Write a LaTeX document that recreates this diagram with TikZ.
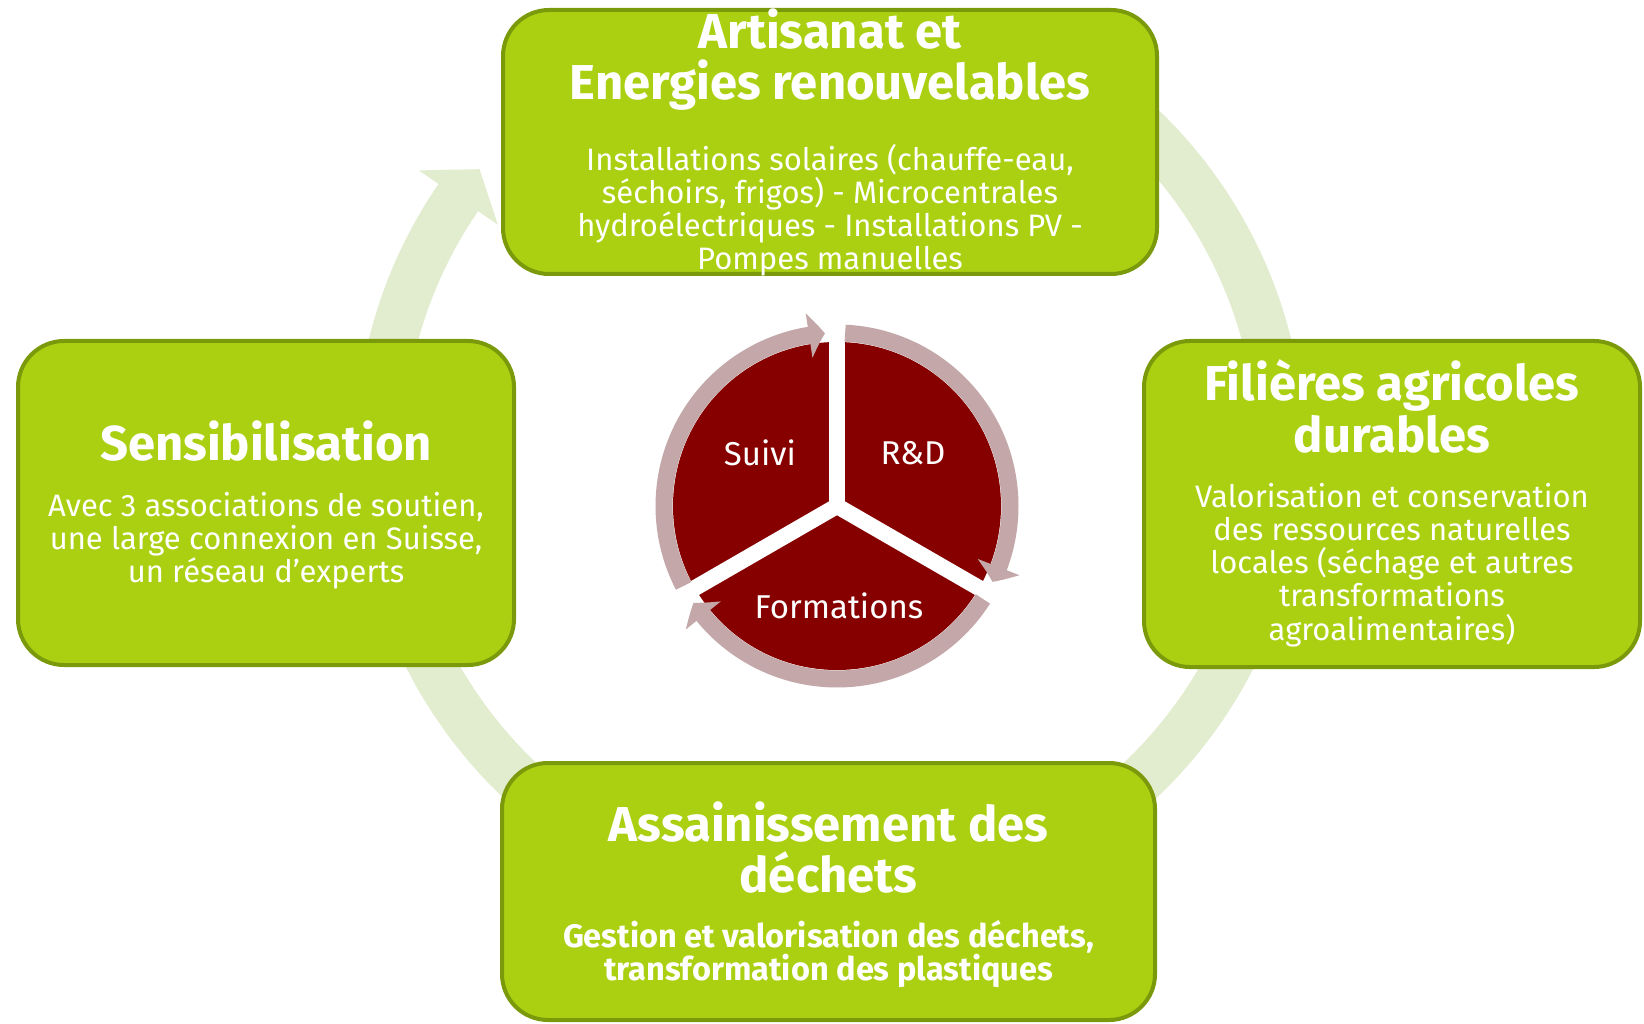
\documentclass[tikz,border=0pt]{standalone}
\usepackage{fontspec}
\setmainfont{Fira Sans}
\usetikzlibrary{arrows.meta,bending,calc}

\definecolor{boxfill}{HTML}{AAD011}
\definecolor{boxline}{HTML}{7A9A0C}
\definecolor{bandgreen}{HTML}{E2EDCF}
\definecolor{piered}{HTML}{870000}
\definecolor{ringmauve}{HTML}{C3A7A9}

\newcommand\lineup[1]{\rule{0pt}{#1}}

\begin{document}
\begin{tikzpicture}[x=1pt,y=-1pt,
  greenbox/.style={draw=boxline, line width=4pt, fill=boxfill, rounded corners=46pt, inner sep=0pt},
  band/.style={draw=bandgreen, line width=48pt},
  bighead/.style={fill=bandgreen, draw=none},
  bigtitle/.style={text=white, anchor=north, inner sep=0pt, align=center, font=\bfseries\fontsize{49}{51}\selectfont},
  sidetitle/.style={text=white, anchor=north, inner sep=0pt, align=center, font=\bfseries\fontsize{49}{52}\selectfont},
  bodytext/.style={text=white, anchor=north, inner sep=0pt, align=center, font=\fontsize{31}{33.2}\selectfont},
  ringarrow/.style={draw=ringmauve, line width=17pt, -{Triangle[width=44pt,length=16pt,bend]}},
  separator/.style={draw=white, line width=16pt},
  pielabel/.style={text=white, inner sep=0pt, font=\fontsize{33}{38}\selectfont}
]
\useasboundingbox (0,0) rectangle (1644,1024);
\fill[white] (0,0) rectangle (1644,1024);

% big cycle band
\coordinate (bc) at (830,453);
\draw[band] (bc) ++(55:451pt) arc[start angle=55, end angle=5, radius=451pt];
\draw[band] (bc) ++(-20:451pt) arc[start angle=-20, end angle=-62, radius=451pt];
\draw[band] (bc) ++(-118:451pt) arc[start angle=-118, end angle=-160, radius=451pt];
\draw[band] (bc) ++(175:451pt) arc[start angle=175, end angle=145.3, radius=451pt];
\coordinate (hb1) at ($(bc)+(145.5:499pt)$);
\coordinate (htip) at ($(bc)+(141:451pt)$);
\coordinate (hb2) at ($(bc)+(145.5:403pt)$);
\fill[bighead] (hb1) -- (htip) -- (hb2) -- cycle;

% boxes
\node[greenbox, minimum width=654pt, minimum height=264pt] (top) at (830,142) {};
\node[greenbox, minimum width=496pt, minimum height=324pt] (left) at (266,503) {};
\node[greenbox, minimum width=496pt, minimum height=326pt] (right) at (1392,504) {};
\node[greenbox, minimum width=653pt, minimum height=257pt] (bottom) at (828.5,891.5) {};

% texts
\node[bigtitle] (toptitle) at (830,6) {\lineup{42pt}Artisanat et\\Energies renouvelables};
\node[bodytext] (topbody) at (830,142) {\lineup{28pt}Installations solaires (chauffe-eau,\\séchoirs, frigos) - Microcentrales\\hydroélectriques - Installations PV -\\Pompes manuelles};

\node[sidetitle] (lefttitle) at (266,418) {\lineup{42pt}Sensibilisation};
\node[bodytext] (leftbody) at (266,488) {\lineup{28pt}Avec 3 associations de soutien,\\une large connexion en Suisse,\\un réseau d’experts};

\node[sidetitle] (righttitle) at (1392,358) {\lineup{42pt}Filières agricoles\\durables};
\node[bodytext] (rightbody) at (1392,479) {\lineup{28pt}Valorisation et conservation\\des ressources naturelles\\locales (séchage et autres\\transformations\\agroalimentaires)};

\node[bigtitle] (bottomtitle) at (828.5,799) {\lineup{42pt}Assainissement des\\déchets};
\node[bodytext, font=\bfseries\fontsize{32.5}{33}\selectfont] (bottombody) at (828.5,919) {\lineup{28pt}Gestion et valorisation des déchets,\\transformation des plastiques};

% central pie
\coordinate (pc) at (837,506);
\fill[piered] (pc) circle[radius=164pt];
\draw[separator] (pc) -- ++(90:168pt);
\draw[separator] (pc) -- ++(-30:168pt);
\draw[separator] (pc) -- ++(210:168pt);
\draw[ringarrow] (pc) ++(207.5:173pt) arc[start angle=207.5, end angle=94, radius=173pt];
\draw[ringarrow] (pc) ++(87.3:173pt) arc[start angle=87.3, end angle=-26, radius=173pt];
\draw[ringarrow] (pc) ++(-32.5:173pt) arc[start angle=-32.5, end angle=-146, radius=173pt];

\node[pielabel] (suivi) at (760,453) {Suivi};
\node[pielabel] (rd) at (913,453) {R\&D};
\node[pielabel] (formations) at (839,606) {Formations};
\end{tikzpicture}
\end{document}
